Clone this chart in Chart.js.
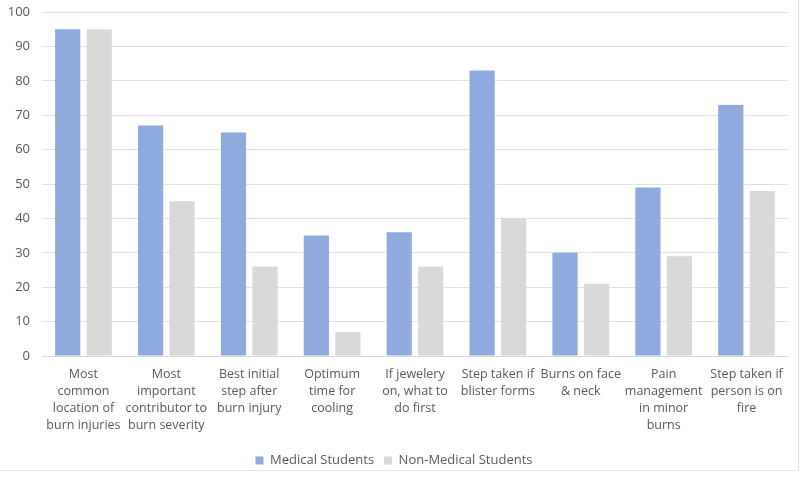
<!DOCTYPE html>
<html>
<head>
<meta charset="utf-8">
<script src="https://cdn.jsdelivr.net/npm/chart.js@4"></script>
<style>
    html, body { margin: 0; padding: 0; background: #fff; }
    #wrap { position: absolute; left: 0; top: 0; width: 800px; height: 477px; }
    #frame { position: absolute; left: 0; top: 0; width: 798px; height: 470px; border-right: 1px solid #e4e4e4; border-bottom: 1px solid #e4e4e4; pointer-events: none; }
</style>
</head>
<body>
<div id="wrap"><canvas id="myChart"></canvas></div>
<div id="frame"></div>
<script>
const categories = [
    ['Most', 'common', 'location of', 'burn injuries'],
    ['Most', 'important', 'contributor to', 'burn severity'],
    ['Best initial', 'step after', 'burn injury'],
    ['Optimum', 'time for', 'cooling'],
    ['If jewelery', 'on, what to', 'do first'],
    ['Step taken if', 'blister forms'],
    ['Burns on face', '& neck'],
    ['Pain', 'management', 'in minor', 'burns'],
    ['Step taken if', 'person is on', 'fire']
];
const medicalStudents = [95, 67, 65, 35, 36, 83, 30, 49, 73];
const nonMedicalStudents = [95, 45, 26, 7, 26, 40, 21, 29, 48];
const yTicks = [0, 10, 20, 30, 40, 50, 60, 70, 80, 90, 100];

Chart.defaults.font.family = '"Open Sans", "Liberation Sans", sans-serif';
Chart.defaults.color = '#595959';

const ctx = document.getElementById('myChart');

const myBarChart = new Chart(ctx, {
    type: 'bar',
    data: {
        labels: categories,
        datasets: [{
            label: 'Medical Students',
            data: medicalStudents,
            backgroundColor: '#8faadc',
            categoryPercentage: 0.76,
            barPercentage: 0.8
        },
        {
            label: 'Non-Medical Students',
            data: nonMedicalStudents,
            backgroundColor: '#d9d9d9',
            categoryPercentage: 0.76,
            barPercentage: 0.8
        }]
    },
    options: {
        responsive: true,
        maintainAspectRatio: false,
        animation: false,
        layout: {
            padding: { left: 0, right: 12, top: 12, bottom: 0 }
        },
        scales: {
            x: {
                grid: { display: false },
                border: { color: '#d9d9d9' },
                afterFit: (axis) => { axis.height = 88; },
                ticks: {
                    font: { size: 12.5, lineHeight: 1.36 },
                    maxRotation: 0,
                    autoSkip: false,
                    padding: 2
                }
            },
            y: {
                min: 0,
                max: 100,
                afterBuildTicks: (axis) => {
                    axis.ticks = yTicks.map(v => ({ value: v }));
                },
                afterFit: (axis) => {
                    axis.width = 42;
                    axis.paddingTop = 0;
                    axis.paddingBottom = 0;
                },
                grid: { color: '#e0e0e0', drawTicks: false },
                border: { display: false },
                ticks: {
                    font: { size: 13 },
                    padding: 12
                }
            }
        },
        plugins: {
            legend: {
                position: 'bottom',
                labels: {
                    boxWidth: 8,
                    boxHeight: 8,
                    font: { size: 13 },
                    padding: 10
                }
            },
            tooltip: { enabled: false }
        }
    }
});
</script>
</body>
</html>
